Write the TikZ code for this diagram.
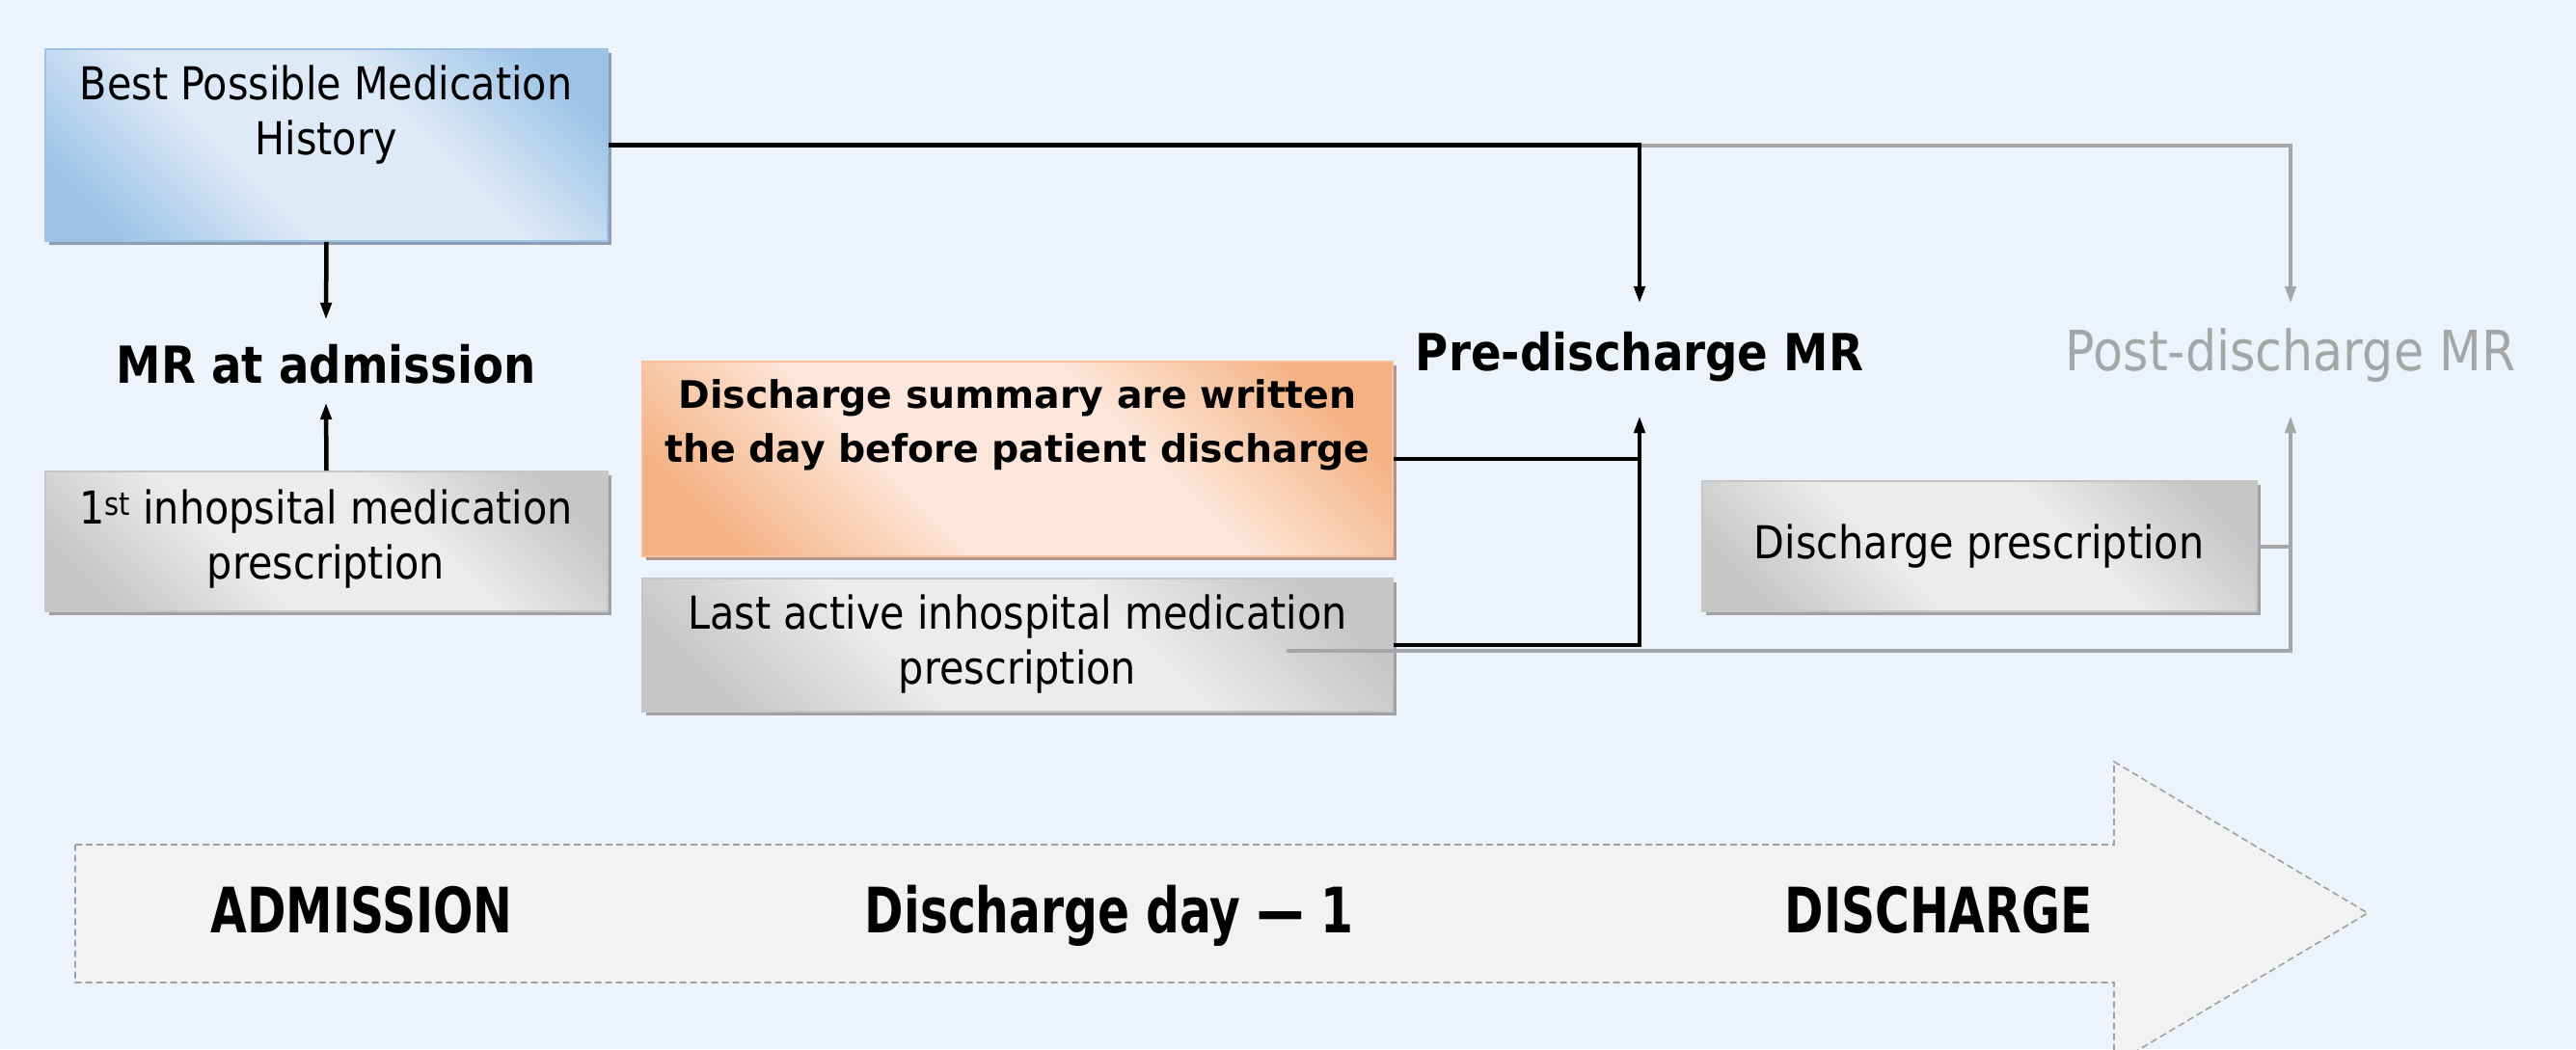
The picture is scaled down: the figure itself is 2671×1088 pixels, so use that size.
\documentclass[tikz,border=0pt]{standalone}
\usepackage{fontspec}
\setmainfont{DejaVu Sans}
\newfontfamily\fa{DejaVu Sans}[FakeStretch=0.88]
\newfontfamily\fbb{DejaVu Sans}[FakeStretch=0.75]
\usetikzlibrary{arrows.meta,shadows}
\definecolor{bgc}{RGB}{237,243,251}
\definecolor{blueD}{RGB}{157,195,230}
\definecolor{blueL}{RGB}{222,234,247}
\definecolor{blueS}{RGB}{142,158,178}
\definecolor{orD}{RGB}{244,177,131}
\definecolor{orL}{RGB}{253,231,218}
\definecolor{orS}{RGB}{178,150,140}
\definecolor{grD}{RGB}{198,198,198}
\definecolor{grL}{RGB}{236,236,236}
\definecolor{grS}{RGB}{160,160,165}
\definecolor{lineG}{RGB}{166,166,166}
\definecolor{arrF}{RGB}{242,242,242}
\definecolor{arrB}{RGB}{160,160,160}
\pgfdeclareverticalshading{blueshade}{100bp}{color(0bp)=(blueD); color(22bp)=(blueD); color(40bp)=(blueL); color(60bp)=(blueL); color(78bp)=(blueD); color(100bp)=(blueD)}
\pgfdeclareverticalshading{orshade}{100bp}{color(0bp)=(orD); color(22bp)=(orD); color(40bp)=(orL); color(60bp)=(orL); color(78bp)=(orD); color(100bp)=(orD)}
\pgfdeclareverticalshading{grshade}{100bp}{color(0bp)=(grD); color(22bp)=(grD); color(40bp)=(grL); color(60bp)=(grL); color(78bp)=(grD); color(100bp)=(grD)}
\tikzset{
  boxbase/.style={inner sep=0pt, line width=2pt},
  bluebox/.style={boxbase, draw=blueD, shading=blueshade, shading angle=-45,
    drop shadow={shadow xshift=4pt, shadow yshift=-4pt, fill=blueS, opacity=1}},
  orbox/.style={boxbase, draw=orD!80, shading=orshade, shading angle=-45,
    drop shadow={shadow xshift=4pt, shadow yshift=-4pt, fill=orS, opacity=1}},
  grbox/.style={boxbase, draw=grD, shading=grshade, shading angle=-45,
    drop shadow={shadow xshift=4pt, shadow yshift=-4pt, fill=grS, opacity=1}},
  txt/.style={align=center, inner sep=0pt, font=\fa\fontsize{47}{57}\selectfont},
  btxt/.style={align=center, inner sep=0pt, font=\bfseries\fontsize{39.4}{56}\selectfont},
  head/.style={inner sep=0pt, font=\fa\bfseries\fontsize{53}{60}\selectfont},
  tl/.style={inner sep=0pt, font=\fbb\bfseries\fontsize{65}{70}\selectfont},
  blk/.style={line width=4.5pt, draw=black},
  gry/.style={line width=4pt, draw=lineG},
  tipB/.style={-{Triangle[length=18pt,width=11pt]}},
}
\begin{document}
\begin{tikzpicture}[x=1pt,y=-1pt]
\useasboundingbox (0,0) rectangle (2671,1088);
\fill[bgc] (0,0) rectangle (2671,1088);

% timeline arrow
\begin{scope}
\clip (0,0) rectangle (2671,1088);
\draw[fill=arrF, draw=arrB, line width=1.6pt, dash pattern=on 7pt off 4pt]
  (78,876) -- (2192,876) -- (2192,790) -- (2455,947) -- (2192,1104) -- (2192,1019) -- (78,1019) -- cycle;
\end{scope}
\node[tl, anchor=base] (tadm) at (375,967) {ADMISSION};
\node[tl, anchor=base] (tdm1) at (1150,967) {Discharge day — 1};
\node[tl, anchor=base] (tdis) at (2010,967) {DISCHARGE};

% boxes
\node[bluebox, minimum width=583pt, minimum height=199pt] (bpmh) at (338.5,150.5) {};
\node[grbox, minimum width=583pt, minimum height=145pt] (first) at (338.5,561.5) {};
\node[orbox, minimum width=778pt, minimum height=202pt] (summ) at (1055,476) {};
\node[grbox, minimum width=778pt, minimum height=138pt] (last) at (1055,669) {};
\node[grbox, minimum width=575pt, minimum height=135pt] (dpres) at (2052.5,566.5) {};

\node[txt] (bpmhT) at (338,119) {Best Possible Medication\\History};
\node[txt] (firstT) at (338,559) {1\textsuperscript{st} inhopsital medication\\prescription};
\node[btxt] (summT) at (1055,441) {Discharge summary are written\\the day before patient discharge};
\node[txt] (lastT) at (1055,668) {Last active inhospital medication\\prescription};
\node[txt] (dpresT) at (2052,567) {Discharge prescription};

% headings
\node[head, minimum height=85pt, text height=45pt, text depth=0pt] (mradm) at (338,374.5) {MR at admission};
\node[head, minimum height=116pt, text height=38pt, text depth=16pt] (pre) at (1700,373) {Pre-discharge MR};
\node[head, font=\fa\fontsize{57.6}{60}\selectfont, text=lineG, minimum height=116pt, text height=38pt, text depth=16pt] (post) at (2375,373) {Post-discharge MR};

% connectors
\draw[blk, tipB] (bpmh.south) -- (mradm.north);
\draw[blk, tipB] (first.north) -- (mradm.south);
\draw[gry, tipB] (pre.north |- bpmh.east) -| (post.north);
\draw[blk, tipB] (bpmh.east) -| (pre.north);
\draw[blk] (summ.east) -- (summ.east -| pre.south);
\coordinate (g0) at (1334,675);
\draw[gry, tipB] (g0) -| (post.south);
\draw[blk, tipB] (last.east) -| (pre.south);
\draw[gry] (dpres.east) -- (dpres.east -| post.south);
\end{tikzpicture}
\end{document}
